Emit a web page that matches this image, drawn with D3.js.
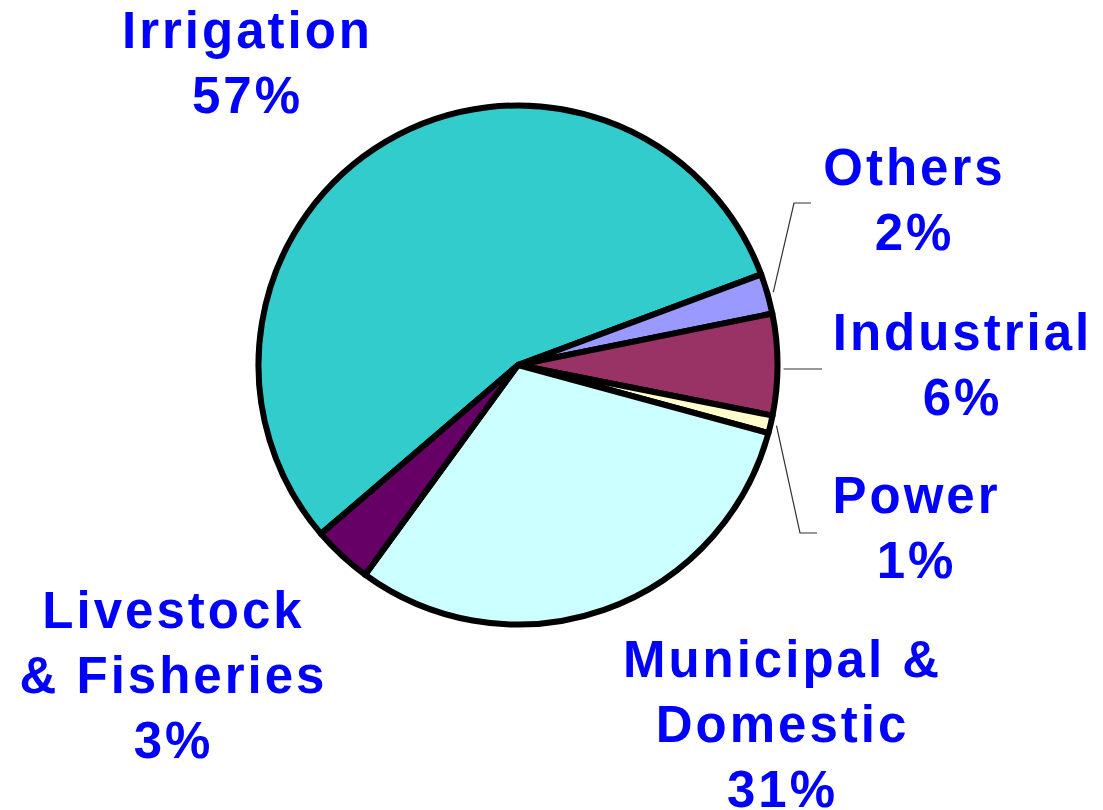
<!DOCTYPE html>
<html>
<head>
<meta charset="utf-8">
<script src="https://cdn.jsdelivr.net/npm/d3@7"></script>
<style>
  html, body { margin: 0; padding: 0; background: #ffffff; }
  svg { display: block; }
  text { font-family: "Liberation Sans", Arial, sans-serif; font-weight: bold; }
</style>
</head>
<body>
<svg id="chart" width="1103" height="810"></svg>
<script>
// ---- data ----
const categories = ["Irrigation", "Others", "Industrial", "Power", "Municipal & Domestic", "Livestock & Fisheries"];
const shares = [55.6, 2.5, 6.3, 1.1, 30.8, 3.7];          // slice sizes as drawn
const percentLabels = ["57%", "2%", "6%", "1%", "31%", "3%"]; // printed labels
const labelLines = [
  ["Irrigation"],
  ["Others"],
  ["Industrial"],
  ["Power"],
  ["Municipal &", "Domestic"],
  ["Livestock", "& Fisheries"]
];
const colors = ["#33CCCC", "#9999FF", "#993366", "#FFFFCC", "#CCFFFF", "#660066"];

// ---- layout ----
const W = 1103, H = 810;
const cx = 518, cy = 365, R = 259.5;
const startDeg = 229.4;
const lineGap = 65;
const fontSize = 51;
const labelPos = [ // x center, first baseline
  [246, 48], [913, 185], [961, 350], [915, 513], [781, 677], [172, 628]
];
// leader lines: [elbow x, elbow y, end x] (null = none)
const leaders = [null, [794, 203, 811], [null, 369, 822], [800, 533, 817], null, null];

const svg = d3.select("#chart");
const g = svg.append("g").attr("transform", `translate(${cx},${cy})`);

const pie = d3.pie().sort(null).value(d => d)
  .startAngle(startDeg * Math.PI / 180)
  .endAngle(startDeg * Math.PI / 180 + 2 * Math.PI);
const arcs = pie(shares);
const arc = d3.arc().innerRadius(0).outerRadius(R);

g.selectAll("path.slice")
  .data(arcs)
  .join("path")
  .attr("class", "slice")
  .attr("d", arc)
  .attr("fill", (d, i) => colors[i])
  .attr("stroke", "#000")
  .attr("stroke-width", 6)
  .attr("stroke-linejoin", "round");

// leader lines
arcs.forEach((d, i) => {
  const L = leaders[i];
  if (!L) return;
  const mid = (d.startAngle + d.endAngle) / 2;
  const rs = R + 6;
  const sx = cx + rs * Math.sin(mid), sy = cy - rs * Math.cos(mid);
  let pts;
  if (L[0] === null) pts = [[sx, L[1]], [L[2], L[1]]];
  else pts = [[sx, sy], [L[0], L[1]], [L[2], L[1]]];
  svg.append("path")
    .attr("d", d3.line()(pts))
    .attr("fill", "none")
    .attr("stroke", "#333")
    .attr("stroke-width", 1.2);
});

// labels
labelLines.forEach((lines, i) => {
  const [x, y] = labelPos[i];
  const t = svg.append("text")
    .attr("text-anchor", "middle")
    .attr("font-size", fontSize)
    .attr("fill", "#0000FF")
    .attr("letter-spacing", 3);
  lines.concat([percentLabels[i]]).forEach((s, k) => {
    t.append("tspan").attr("x", x + 1.5).attr("y", y + k * lineGap).text(s);
  });
});
</script>
</body>
</html>
